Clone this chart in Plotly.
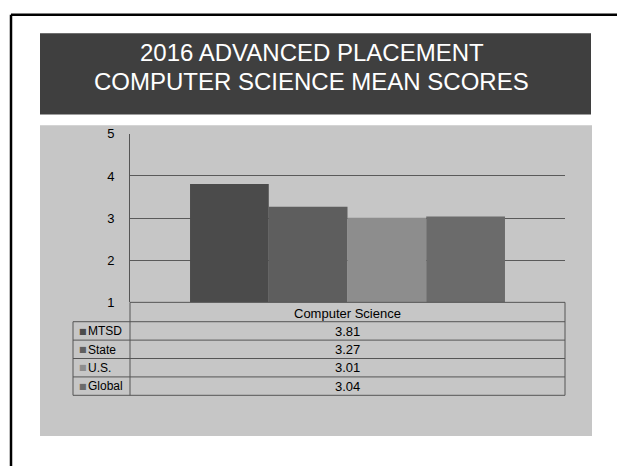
import plotly.graph_objects as go

W, H = 617, 474

categories = ["Computer Science"]
series_names = ["MTSD", "State", "U.S.", "Global"]
series_values = [3.81, 3.27, 3.01, 3.04]
series_colors = ["#4b4b4b", "#5e5e5e", "#8d8d8d", "#6b6b6b"]
y_ticks = [1, 2, 3, 4, 5]
title_lines = ["2016 ADVANCED PLACEMENT", "COMPUTER SCIENCE MEAN SCORES"]


def px(x):
    return x / W


def py(y):
    return 1 - y / H


fig = go.Figure()
for name, val, col in zip(series_names, series_values, series_colors):
    fig.add_trace(go.Bar(x=categories, y=[val], name=name, marker=dict(color=col, line=dict(width=0))))

shapes = []
# outer slide border (top and left)
shapes.append(dict(type="line", xref="paper", yref="paper", x0=px(11), x1=px(617), y0=py(8), y1=py(8),
                   line=dict(color="black", width=2.5), layer="below"))
shapes.append(dict(type="line", xref="paper", yref="paper", x0=px(11), x1=px(11), y0=py(8), y1=py(474),
                   line=dict(color="black", width=2.5), layer="below"))
# title banner
shapes.append(dict(type="rect", xref="paper", yref="paper", x0=px(40), x1=px(591), y0=py(27), y1=py(111),
                   fillcolor="#3f3f3f", line=dict(width=0), layer="below"))
# chart area background
shapes.append(dict(type="rect", xref="paper", yref="paper", x0=px(40), x1=px(592), y0=py(122), y1=py(443),
                   fillcolor="#c6c6c6", line=dict(width=0), layer="below"))

# data table lines
row_tops = [305, 325, 344, 363, 382, 401]
for i, yy in enumerate(row_tops):
    x0 = 130 if i == 0 else 73
    shapes.append(dict(type="line", xref="paper", yref="paper", x0=px(x0), x1=px(565), y0=py(yy), y1=py(yy),
                       line=dict(color="#555555", width=1)))
shapes.append(dict(type="line", xref="paper", yref="paper", x0=px(73), x1=px(73), y0=py(325), y1=py(401),
                   line=dict(color="#555555", width=1)))
shapes.append(dict(type="line", xref="paper", yref="paper", x0=px(130), x1=px(130), y0=py(305), y1=py(401),
                   line=dict(color="#555555", width=1)))
shapes.append(dict(type="line", xref="paper", yref="paper", x0=px(565), x1=px(565), y0=py(305), y1=py(401),
                   line=dict(color="#555555", width=1)))

annotations = []
# title
for i, t in enumerate(title_lines):
    annotations.append(dict(text=t, xref="paper", yref="paper", x=px(312), y=py(47 + i * 30),
                            showarrow=False, xanchor="center", yanchor="middle",
                            font=dict(family="Liberation Sans", size=24, color="white")))
# table header
annotations.append(dict(text=categories[0], xref="paper", yref="paper", x=px(348), y=py(316),
                        showarrow=False, xanchor="center", yanchor="middle",
                        font=dict(family="Liberation Sans", size=13, color="black")))
row_centers = [335, 354, 372.5, 391.5]
for name, val, col, yc in zip(series_names, series_values, series_colors, row_centers):
    annotations.append(dict(text="■", xref="paper", yref="paper", x=px(77), y=py(yc),
                            showarrow=False, xanchor="left", yanchor="middle",
                            font=dict(family="DejaVu Sans", size=8, color=col)))
    annotations.append(dict(text=name, xref="paper", yref="paper", x=px(86), y=py(yc),
                            showarrow=False, xanchor="left", yanchor="middle",
                            font=dict(family="Liberation Sans", size=12, color="black")))
    annotations.append(dict(text=f"{val:.2f}", xref="paper", yref="paper", x=px(348), y=py(yc),
                            showarrow=False, xanchor="center", yanchor="middle",
                            font=dict(family="Liberation Sans", size=13, color="black")))

fig.update_layout(
    width=W, height=H,
    margin=dict(l=0, r=0, t=0, b=0),
    paper_bgcolor="white",
    plot_bgcolor="rgba(0,0,0,0)",
    barmode="group",
    bargap=0.276,
    bargroupgap=0,
    showlegend=False,
    shapes=shapes,
    annotations=annotations,
    xaxis=dict(domain=[px(130), px(565)], showticklabels=False, showgrid=False, zeroline=False,
               showline=False, fixedrange=True),
    yaxis=dict(domain=[py(305), py(131)], range=[1, 5], tickvals=y_ticks,
               showgrid=True, gridcolor="#5a5a5a", gridwidth=1, zeroline=False,
               showline=True, linecolor="#555555", linewidth=1, ticks="",
               ticklabelstandoff=12, fixedrange=True,
               tickfont=dict(family="Liberation Sans", size=13, color="black")),
)

fig.write_html("out.html", config={"displayModeBar": False},
               post_script="document.body.style.margin='0';document.body.style.overflow='hidden';")
